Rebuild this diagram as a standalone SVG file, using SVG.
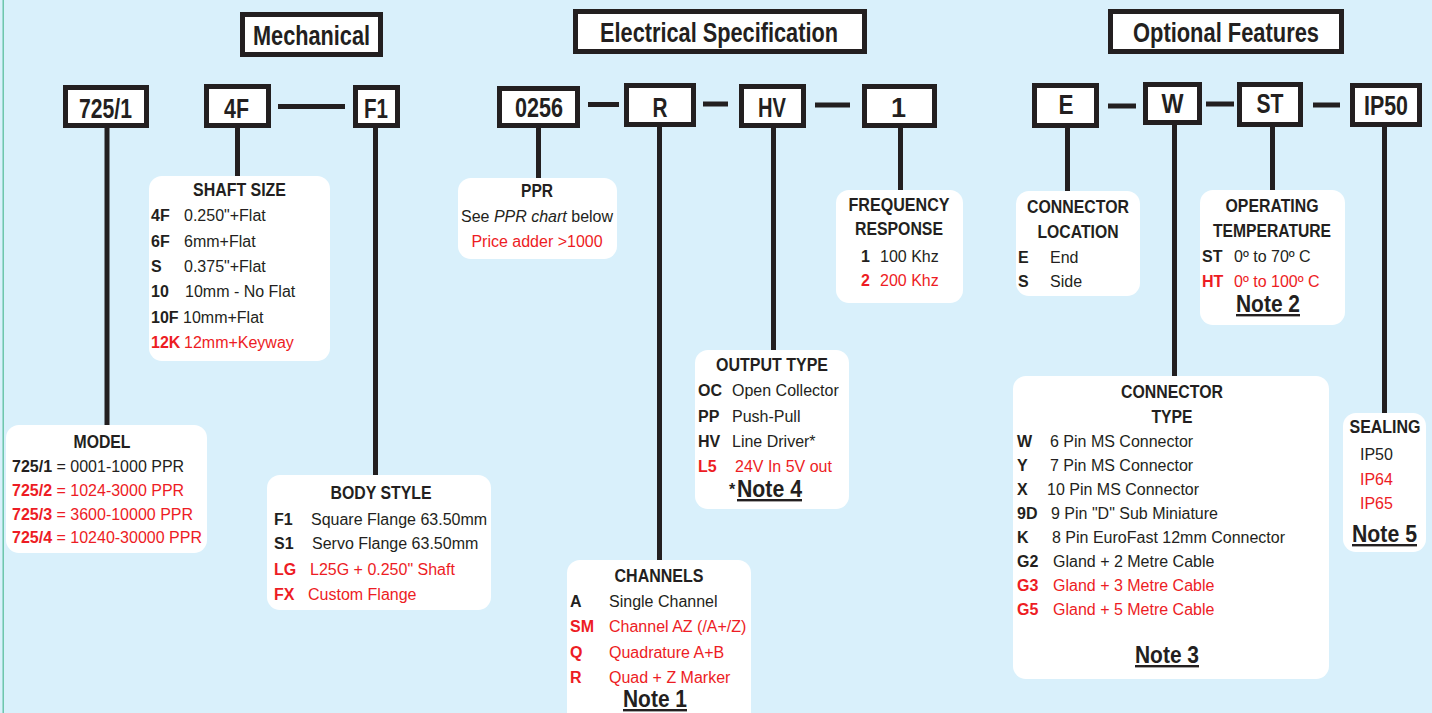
<svg xmlns="http://www.w3.org/2000/svg" width="1432" height="713" viewBox="0 0 1432 713">
<style>
text{font-family:"Liberation Sans",Arial,sans-serif;fill:#231f20;font-size:16px}
.b{font-weight:bold}
.r{fill:#ed1c24}
.t{font-weight:bold;text-anchor:middle;font-size:18px}
.c{text-anchor:middle}
.hdr{font-weight:bold;font-size:27px;text-anchor:middle}
.code{font-weight:bold;font-size:27px;text-anchor:middle}
.note{font-weight:bold;font-size:24px;text-anchor:middle;text-decoration:underline}
.frame{fill:#fff;stroke:#231f20;stroke-width:5}
.card{fill:#fff}
.conn line{stroke:#231f20;stroke-width:5}
</style>
<rect x="0" y="0" width="1432" height="713" fill="#d9f0fb"/>
<line x1="3.2" y1="0" x2="3.2" y2="713" stroke="#5bbf9f" stroke-width="1.3"/>

<g id="connectors" class="conn">
<line x1="278" y1="106.5" x2="345" y2="106.5"/>
<line x1="588" y1="104.5" x2="619" y2="104.5"/>
<line x1="703" y1="104" x2="728" y2="104"/>
<line x1="815" y1="105" x2="850" y2="105"/>
<line x1="1108" y1="106" x2="1136" y2="106"/>
<line x1="1206" y1="104" x2="1234" y2="104"/>
<line x1="1313" y1="105" x2="1340" y2="105"/>
<line x1="107" y1="126" x2="107" y2="427"/>
<line x1="237.5" y1="126" x2="237.5" y2="178"/>
<line x1="375.5" y1="126" x2="375.5" y2="477"/>
<line x1="538.5" y1="126" x2="538.5" y2="180"/>
<line x1="659.5" y1="125" x2="659.5" y2="562"/>
<line x1="773.5" y1="126" x2="773.5" y2="352"/>
<line x1="900.5" y1="126" x2="900.5" y2="192"/>
<line x1="1067.5" y1="126" x2="1067.5" y2="193"/>
<line x1="1174.5" y1="123" x2="1174.5" y2="378"/>
<line x1="1272.5" y1="125" x2="1272.5" y2="192"/>
<line x1="1384.5" y1="125" x2="1384.5" y2="415"/>
</g>

<g id="hdr-mechanical">
<rect class="frame" x="242.5" y="14.5" width="138" height="40"/>
<text class="hdr" x="311.5" y="45" textLength="117" lengthAdjust="spacingAndGlyphs">Mechanical</text>
</g>
<g id="hdr-electrical">
<rect class="frame" x="575.5" y="11.5" width="289" height="40"/>
<text class="hdr" x="719" y="42" textLength="238" lengthAdjust="spacingAndGlyphs">Electrical Specification</text>
</g>
<g id="hdr-optional">
<rect class="frame" x="1110.5" y="11.5" width="231" height="40"/>
<text class="hdr" x="1226" y="42" textLength="186" lengthAdjust="spacingAndGlyphs">Optional Features</text>
</g>

<g id="code-7251">
<rect class="frame" x="65.5" y="87.5" width="81" height="38"/>
<text class="code" x="105.5" y="118" textLength="53" lengthAdjust="spacingAndGlyphs">725/1</text>
</g>
<g id="code-4F">
<rect class="frame" x="206.5" y="86.5" width="62" height="39"/>
<text class="code" x="236.5" y="118" textLength="25" lengthAdjust="spacingAndGlyphs">4F</text>
</g>
<g id="code-F1">
<rect class="frame" x="355.5" y="87.5" width="42" height="38"/>
<text class="code" x="376" y="118" textLength="24" lengthAdjust="spacingAndGlyphs">F1</text>
</g>
<g id="code-0256">
<rect class="frame" x="499.5" y="88.5" width="78" height="37"/>
<text class="code" x="539" y="117" textLength="48" lengthAdjust="spacingAndGlyphs">0256</text>
</g>
<g id="code-R">
<rect class="frame" x="626.5" y="85.5" width="67" height="39"/>
<text class="code" x="660" y="117" textLength="15" lengthAdjust="spacingAndGlyphs">R</text>
</g>
<g id="code-HV">
<rect class="frame" x="741.5" y="86.5" width="62" height="39"/>
<text class="code" x="772" y="117" textLength="28" lengthAdjust="spacingAndGlyphs">HV</text>
</g>
<g id="code-1">
<rect class="frame" x="864.5" y="86.5" width="70" height="39"/>
<text class="code" x="898.5" y="117">1</text>
</g>
<g id="code-E">
<rect class="frame" x="1034.5" y="85.5" width="62" height="40"/>
<text class="code" x="1066" y="114" textLength="15" lengthAdjust="spacingAndGlyphs">E</text>
</g>
<g id="code-W">
<rect class="frame" x="1145.5" y="84.5" width="54" height="38"/>
<text class="code" x="1172.5" y="113" textLength="22" lengthAdjust="spacingAndGlyphs">W</text>
</g>
<g id="code-ST">
<rect class="frame" x="1239.5" y="84.5" width="61" height="40"/>
<text class="code" x="1270" y="113" textLength="27" lengthAdjust="spacingAndGlyphs">ST</text>
</g>
<g id="code-IP50">
<rect class="frame" x="1352.5" y="85.5" width="67" height="39"/>
<text class="code" x="1386" y="115" textLength="44" lengthAdjust="spacingAndGlyphs">IP50</text>
</g>

<g id="card-shaft">
<rect class="card" x="149" y="176" width="181" height="185" rx="13"/>
<text class="t" x="239.5" y="196" textLength="93" lengthAdjust="spacingAndGlyphs">SHAFT SIZE</text>
<text x="151" y="221"><tspan class="b">4F</tspan><tspan x="184">0.250"+Flat</tspan></text>
<text x="151" y="246.5"><tspan class="b">6F</tspan><tspan x="184">6mm+Flat</tspan></text>
<text x="151" y="272"><tspan class="b">S</tspan><tspan x="184">0.375"+Flat</tspan></text>
<text x="151" y="297"><tspan class="b">10</tspan><tspan x="185">10mm - No Flat</tspan></text>
<text x="151" y="322.5"><tspan class="b">10F</tspan><tspan x="183">10mm+Flat</tspan></text>
<text x="151" y="348" class="r"><tspan class="b r">12K</tspan><tspan class="r" x="184">12mm+Keyway</tspan></text>
</g>

<g id="card-model">
<rect class="card" x="6" y="425" width="201" height="128" rx="13"/>
<text class="t" x="102" y="448" textLength="57" lengthAdjust="spacingAndGlyphs">MODEL</text>
<text x="12" y="472"><tspan class="b">725/1</tspan> = 0001-1000 PPR</text>
<text x="12" y="496" class="r"><tspan class="b r">725/2</tspan> = 1024-3000 PPR</text>
<text x="12" y="520" class="r"><tspan class="b r">725/3</tspan> = 3600-10000 PPR</text>
<text x="12" y="543" class="r"><tspan class="b r">725/4</tspan> = 10240-30000 PPR</text>
</g>

<g id="card-body">
<rect class="card" x="267" y="475" width="224" height="135" rx="13"/>
<text class="t" x="381" y="499" textLength="101" lengthAdjust="spacingAndGlyphs">BODY STYLE</text>
<text x="274" y="525"><tspan class="b">F1</tspan><tspan x="311">Square Flange 63.50mm</tspan></text>
<text x="274" y="549"><tspan class="b">S1</tspan><tspan x="312">Servo Flange 63.50mm</tspan></text>
<text x="274" y="575" class="r"><tspan class="b r">LG</tspan><tspan class="r" x="310">L25G + 0.250" Shaft</tspan></text>
<text x="274" y="600" class="r"><tspan class="b r">FX</tspan><tspan class="r" x="308">Custom Flange</tspan></text>
</g>

<g id="card-ppr">
<rect class="card" x="458" y="178" width="159" height="81" rx="13"/>
<text class="t" x="537" y="197" textLength="32" lengthAdjust="spacingAndGlyphs">PPR</text>
<text class="c" x="537" y="222">See <tspan font-style="italic">PPR chart</tspan> below</text>
<text class="c r" x="537" y="247">Price adder &gt;1000</text>
</g>

<g id="card-channels">
<rect class="card" x="567" y="560" width="184" height="170" rx="13"/>
<text class="t" x="659" y="582" textLength="89" lengthAdjust="spacingAndGlyphs">CHANNELS</text>
<text x="570" y="607"><tspan class="b">A</tspan><tspan x="609">Single Channel</tspan></text>
<text x="570" y="632" class="r"><tspan class="b r">SM</tspan><tspan class="r" x="609">Channel AZ (/A+/Z)</tspan></text>
<text x="570" y="658" class="r"><tspan class="b r">Q</tspan><tspan class="r" x="609">Quadrature A+B</tspan></text>
<text x="570" y="683" class="r"><tspan class="b r">R</tspan><tspan class="r" x="609">Quad + Z Marker</tspan></text>
<text class="note" x="655" y="707" textLength="64" lengthAdjust="spacingAndGlyphs">Note 1</text>
</g>

<g id="card-output">
<rect class="card" x="695" y="350" width="154" height="159" rx="13"/>
<text class="t" x="772" y="371" textLength="112" lengthAdjust="spacingAndGlyphs">OUTPUT TYPE</text>
<text x="698" y="396"><tspan class="b">OC</tspan><tspan x="732">Open Collector</tspan></text>
<text x="698" y="422"><tspan class="b">PP</tspan><tspan x="732">Push-Pull</tspan></text>
<text x="698" y="447"><tspan class="b">HV</tspan><tspan x="732">Line Driver*</tspan></text>
<text x="698" y="472" class="r"><tspan class="b r">L5</tspan><tspan class="r" x="735">24V In 5V out</tspan></text>
<text class="b" x="729" y="495" font-size="21">*</text>
<text class="note" x="769.5" y="497" textLength="65" lengthAdjust="spacingAndGlyphs">Note 4</text>
</g>

<g id="card-freq">
<rect class="card" x="836" y="190" width="127" height="113" rx="13"/>
<text class="t" x="899" y="211" textLength="101" lengthAdjust="spacingAndGlyphs">FREQUENCY</text>
<text class="t" x="899" y="235" textLength="88" lengthAdjust="spacingAndGlyphs">RESPONSE</text>
<text x="861" y="262"><tspan class="b">1</tspan><tspan x="880">100 Khz</tspan></text>
<text x="861" y="286" class="r"><tspan class="b r">2</tspan><tspan class="r" x="880">200 Khz</tspan></text>
</g>

<g id="card-conn-location">
<rect class="card" x="1016" y="191" width="124" height="105" rx="13"/>
<text class="t" x="1078" y="213" textLength="102" lengthAdjust="spacingAndGlyphs">CONNECTOR</text>
<text class="t" x="1078" y="238" textLength="81" lengthAdjust="spacingAndGlyphs">LOCATION</text>
<text x="1018" y="263"><tspan class="b">E</tspan><tspan x="1050">End</tspan></text>
<text x="1018" y="287"><tspan class="b">S</tspan><tspan x="1050">Side</tspan></text>
</g>

<g id="card-temp">
<rect class="card" x="1200" y="190" width="145" height="135" rx="13"/>
<text class="t" x="1272" y="212" textLength="93" lengthAdjust="spacingAndGlyphs">OPERATING</text>
<text class="t" x="1272" y="237" textLength="118" lengthAdjust="spacingAndGlyphs">TEMPERATURE</text>
<text x="1202" y="262"><tspan class="b">ST</tspan><tspan x="1234">0º to 70º C</tspan></text>
<text x="1202" y="287" class="r"><tspan class="b r">HT</tspan><tspan class="r" x="1234">0º to 100º C</tspan></text>
<text class="note" x="1268" y="312" textLength="64" lengthAdjust="spacingAndGlyphs">Note 2</text>
</g>

<g id="card-conn-type">
<rect class="card" x="1013" y="376" width="316" height="303" rx="13"/>
<text class="t" x="1172" y="398" textLength="102" lengthAdjust="spacingAndGlyphs">CONNECTOR</text>
<text class="t" x="1172" y="423" textLength="41" lengthAdjust="spacingAndGlyphs">TYPE</text>
<text x="1017" y="447"><tspan class="b">W</tspan><tspan x="1050">6 Pin MS Connector</tspan></text>
<text x="1017" y="471"><tspan class="b">Y</tspan><tspan x="1050">7 Pin MS Connector</tspan></text>
<text x="1017" y="495"><tspan class="b">X</tspan><tspan x="1047">10 Pin MS Connector</tspan></text>
<text x="1017" y="519"><tspan class="b">9D</tspan><tspan x="1051">9 Pin "D" Sub Miniature</tspan></text>
<text x="1017" y="543"><tspan class="b">K</tspan><tspan x="1052">8 Pin EuroFast 12mm Connector</tspan></text>
<text x="1017" y="567"><tspan class="b">G2</tspan><tspan x="1053">Gland + 2 Metre Cable</tspan></text>
<text x="1017" y="591" class="r"><tspan class="b r">G3</tspan><tspan class="r" x="1053">Gland + 3 Metre Cable</tspan></text>
<text x="1017" y="615" class="r"><tspan class="b r">G5</tspan><tspan class="r" x="1053">Gland + 5 Metre Cable</tspan></text>
<text class="note" x="1167" y="663" textLength="64" lengthAdjust="spacingAndGlyphs">Note 3</text>
</g>

<g id="card-sealing">
<rect class="card" x="1343" y="413" width="83" height="139" rx="13"/>
<text class="t" x="1385" y="433" textLength="71" lengthAdjust="spacingAndGlyphs">SEALING</text>
<text x="1360" y="460">IP50</text>
<text x="1360" y="485" class="r">IP64</text>
<text x="1360" y="509" class="r">IP65</text>
<text class="note" x="1384.5" y="542" textLength="65" lengthAdjust="spacingAndGlyphs">Note 5</text>
</g>
</svg>
